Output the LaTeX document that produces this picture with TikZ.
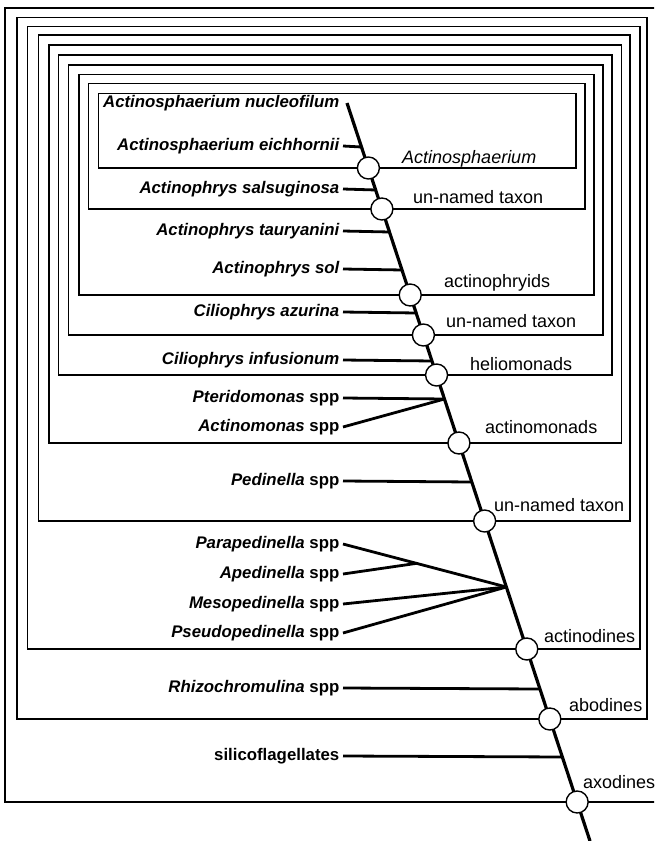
\documentclass[tikz,border=0pt]{standalone}
\usepackage{fontspec}
\setmainfont{Liberation Sans}
\usetikzlibrary{calc,positioning}

\begin{document}
\begin{tikzpicture}[
  x=1pt, y=-1pt,
  clade/.style={draw, line width=1.5pt},
  stem/.style={line width=3.2pt},
  twig/.style={line width=2.8pt},
  knot/.style={circle, draw, fill=white, line width=1.4pt, minimum size=22pt, inner sep=0pt},
  taxon/.style={anchor=east, font=\fontsize{16.8}{19}\selectfont\bfseries, inner sep=3.5pt},
  group/.style={anchor=base west, font=\fontsize{18}{20}\selectfont, inner sep=0pt},
]
\useasboundingbox (0,0) rectangle (654,841);
\clip (0,0) rectangle (654,841);

% nested clades, outermost first
\foreach \l/\t/\r/\b in {5/8/670/802, 17/17.5/647/719, 27.5/26.5/640/649,
  38.5/35/630/521, 49/45/621.5/443, 58.5/55/612/375, 68.5/65/603/335,
  79/74.5/594/295, 88.5/83.5/585/209, 98.5/93.5/576/168}
  \draw[clade] (\l,\t) rectangle (\r,\b);

% the stem, and points on it (named by height)
\coordinate (top) at (347,103);
\coordinate (bot) at (590,841);
\draw[stem] (top) -- (bot);
\foreach \y in {147,168,190,209,232,270,295,313,335,361,375,399,443,482,
  521,587,649,689,719,757,802}
  \coordinate (s\y) at ($(top)!{(\y-103)/738}!(bot)$);

% taxa
\node[taxon] (nucleofilum) at (343,103) {\itshape Actinosphaerium nucleofilum};
\node[taxon] (eichhornii) at (343,146) {\itshape Actinosphaerium eichhornii};
\node[taxon] (salsuginosa) at (343,189) {\itshape Actinophrys salsuginosa};
\node[taxon] (tauryanini) at (343,231) {\itshape Actinophrys tauryanini};
\node[taxon] (sol) at (343,269) {\itshape Actinophrys sol};
\node[taxon] (azurina) at (343,312) {\itshape Ciliophrys azurina};
\node[taxon] (infusionum) at (343,360) {\itshape Ciliophrys infusionum};
\node[taxon] (pteridomonas) at (343,398) {\textit{Pteridomonas} spp};
\node[taxon] (actinomonas) at (343,427) {\textit{Actinomonas} spp};
\node[taxon] (pedinella) at (343,481) {\textit{Pedinella} spp};
\node[taxon] (parapedinella) at (343,544) {\textit{Parapedinella} spp};
\node[taxon] (apedinella) at (343,574) {\textit{Apedinella} spp};
\node[taxon] (mesopedinella) at (343,604) {\textit{Mesopedinella} spp};
\node[taxon] (pseudopedinella) at (343,633) {\textit{Pseudopedinella} spp};
\node[taxon] (rhizochromulina) at (343,688) {\textit{Rhizochromulina} spp};
\node[taxon] (silico) at (343,756) {silicoflagellates};

% twigs to the stem
\foreach \n/\y in {eichhornii/147, salsuginosa/190, tauryanini/232, sol/270,
  azurina/313, infusionum/361, pteridomonas/399, pedinella/482,
  rhizochromulina/689, silico/757}
  \draw[twig] (\n.east) -- (s\y);
\draw[twig] (actinomonas.east) -- (s399);
\draw[twig] (parapedinella.east) -- (s587);
\draw[twig] (mesopedinella.east) -- (s587);
\draw[twig] (pseudopedinella.east) -- (s587);
\draw[twig] (apedinella.east) -- ($(parapedinella.east)!0.45!(s587)$);

% nodes of the clades
\foreach \y [count=\i] in {168,209,295,335,375,443,521,649,719,802}
  \node[knot] (n\i) at (s\y) {};

% clade names
\node[group] (g1) at (402,163) {\itshape Actinosphaerium};
\node[group] (g2) at (413,203) {un-named taxon};
\node[group] (g3) at (444,287) {actinophryids};
\node[group] (g4) at (446,327) {un-named taxon};
\node[group] (g5) at (470,370) {heliomonads};
\node[group] (g6) at (485,433) {actinomonads};
\node[group] (g7) at (494,511) {un-named taxon};
\node[group] (g8) at (544,642) {actinodines};
\node[group] (g9) at (569,711) {abodines};
\node[group] (g10) at (583,788) {axodines};
\end{tikzpicture}
\end{document}
